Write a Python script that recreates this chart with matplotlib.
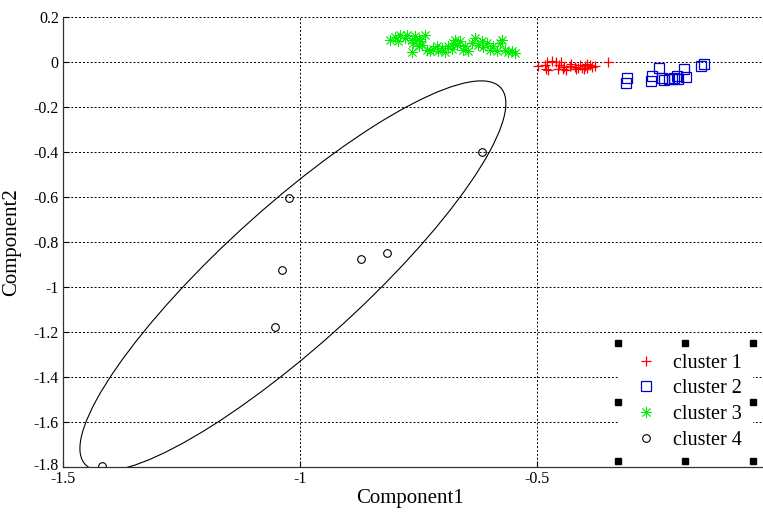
import matplotlib
matplotlib.use("Agg")
import matplotlib.pyplot as plt
import matplotlib.transforms as mtransforms
import numpy as np
from matplotlib.patches import Ellipse

plt.rcParams["font.family"] = ["Liberation Serif", "DejaVu Serif"]

# cluster 1 (red +)
c1_x = [-0.498, -0.484, -0.478, -0.468, -0.459, -0.454, -0.449, -0.443, -0.438, -0.431,
        -0.428, -0.420, -0.413, -0.410, -0.405, -0.399, -0.394, -0.389, -0.385, -0.378,
        -0.350, -0.482, -0.477, -0.456, -0.445, -0.417, -0.401, -0.394]
c1_y = [-0.018, -0.012, 0.000, 0.003, 0.000, -0.012, 0.000, -0.022, -0.037, -0.018,
        -0.008, -0.022, -0.025, -0.015, -0.027, -0.018, -0.008, -0.012, -0.022, -0.018,
        0.000, -0.030, -0.037, -0.030, -0.032, -0.030, -0.030, -0.027]

# cluster 2 (blue squares)
c2_x = [-0.310, -0.312, -0.243, -0.257, -0.259, -0.237, -0.232, -0.222, -0.216, -0.210,
        -0.205, -0.202, -0.189, -0.186, -0.154, -0.147]
c2_y = [-0.071, -0.093, -0.027, -0.062, -0.086, -0.071, -0.079, -0.074, -0.074, -0.071,
        -0.062, -0.074, -0.030, -0.068, -0.019, -0.010]

# cluster 3 (green asterisks)
c3_x = [-0.810, -0.800, -0.793, -0.788, -0.779, -0.775, -0.764, -0.761, -0.757, -0.750,
        -0.747, -0.743, -0.736, -0.733, -0.726, -0.719, -0.712, -0.708, -0.701, -0.694,
        -0.687, -0.680, -0.677, -0.673, -0.668, -0.662, -0.657, -0.652, -0.645, -0.638,
        -0.631, -0.624, -0.617, -0.613, -0.606, -0.599, -0.592, -0.585, -0.578, -0.574,
        -0.568, -0.561, -0.553, -0.546, -0.764, -0.750]
c3_y = [0.099, 0.110, 0.092, 0.119, 0.107, 0.121, 0.099, 0.084, 0.114, 0.104,
        0.092, 0.077, 0.119, 0.055, 0.048, 0.059, 0.070, 0.050, 0.062, 0.044,
        0.070, 0.059, 0.084, 0.099, 0.077, 0.092, 0.055, 0.070, 0.048, 0.084,
        0.107, 0.077, 0.095, 0.065, 0.084, 0.055, 0.070, 0.048, 0.084, 0.099,
        0.055, 0.044, 0.048, 0.040, 0.044, 0.070]

# cluster 4 (black circles)
c4_x = [-0.617, -1.023, -1.037, -0.871, -0.816, -1.053, -1.418]
c4_y = [-0.399, -0.606, -0.924, -0.877, -0.847, -1.176, -1.796]

# ellipse around cluster 4 (data units)
ell_center = (-1.015, -0.951)
ell_width = 2 * 0.958
ell_height = 2 * 0.19
ell_angle = 64.3

labels = ["cluster 1", "cluster 2", "cluster 3", "cluster 4"]

fig = plt.figure(figsize=(7.63, 5.13), dpi=100)
ax = fig.add_axes([63 / 763, 46 / 513, 711 / 763, 450 / 513])

ax.plot(c1_x, c1_y, linestyle="none", marker="+", color="red", markersize=7, mew=0.9, label=labels[0])
ax.plot(c2_x, c2_y, linestyle="none", marker="s", mfc="none", mec="#0000cc", markersize=6.5, mew=0.9, label=labels[1])
ax.plot(c3_x, c3_y, linestyle="none", marker=(8, 2, 0), color="#00ee00", markersize=8, mew=0.6, label=labels[2])
ax.plot(c4_x, c4_y, linestyle="none", marker="o", mfc="none", mec="black", markersize=5.5, mew=0.8, label=labels[3])

ax.add_patch(Ellipse(ell_center, ell_width, ell_height, angle=ell_angle,
                     fill=False, edgecolor="black", linewidth=0.8))

ax.set_xlim(-1.5, 0)
ax.set_ylim(-1.8, 0.2)
ax.set_xticks([-1.5, -1, -0.5])
ax.set_xticklabels(["-1.5", "-1", "-0.5"])
ax.set_yticks(np.round(np.arange(-1.8, 0.21, 0.2), 1))
ax.set_yticklabels(["-1.8", "-1.6", "-1.4", "-1.2", "-1", "-0.8", "-0.6", "-0.4", "-0.2", "0", "0.2"])
ax.tick_params(direction="in", length=4, labelsize=11.5, width=0.8, pad=3)
ax.grid(True, color="black", linestyle=(0, (2, 2)), linewidth=0.7)
ax.spines["top"].set_visible(False)
ax.spines["right"].set_visible(False)
for s in ("left", "bottom"):
    ax.spines[s].set_linewidth(0.9)
    ax.spines[s].set_color("#333333")

# lift the bottom y label a little so it sits above "-1.5"
lowest = ax.get_yticklabels()[0]
lowest.set_transform(lowest.get_transform() + mtransforms.ScaledTranslation(0, 3 / 100, fig.dpi_scale_trans))

ax.set_xlabel("Component1", fontsize=15)
ax.set_ylabel("Component2", fontsize=15)
ax.xaxis.set_label_coords(347 / 711, -22 / 450)
ax.yaxis.set_label_coords(-42 / 711, 0.5)

leg = ax.legend(loc="lower right", bbox_to_anchor=(753 / 763, 52 / 513), bbox_transform=fig.transFigure,
                borderaxespad=0, frameon=True, fontsize=14.5, labelspacing=0.33, handletextpad=0.5,
                handlelength=1.7, borderpad=0.55)
leg.get_frame().set_facecolor("white")
leg.get_frame().set_edgecolor("none")
leg.get_frame().set_alpha(1.0)

# selection handles around the legend box
fig.canvas.draw()
bb = leg.get_window_extent().transformed(fig.transFigure.inverted())
hx = [bb.x0, (bb.x0 + bb.x1) / 2, bb.x1]
hy = [bb.y0, (bb.y0 + bb.y1) / 2, bb.y1]
for i, x in enumerate(hx):
    for j, y in enumerate(hy):
        if i == 1 and j == 1:
            continue
        fig.add_artist(plt.Line2D([x], [y], marker="s", color="black", markersize=5,
                                  linestyle="none", transform=fig.transFigure))

fig.savefig("out.png", dpi=100)
